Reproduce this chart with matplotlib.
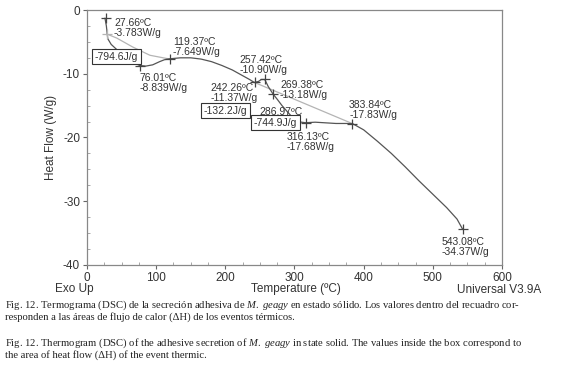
import matplotlib
matplotlib.use("Agg")
import matplotlib.pyplot as plt

plt.rcParams['font.family'] = ['Liberation Sans', 'DejaVu Sans']
plt.rcParams['axes.unicode_minus'] = False
plt.rcParams['mathtext.fontset'] = 'custom'
plt.rcParams['mathtext.rm'] = 'Liberation Serif'
plt.rcParams['mathtext.it'] = 'Liberation Serif:italic'

# DSC curve
temp = [26, 28, 30, 35, 45, 55, 65, 76, 85, 95, 105, 112, 120, 135, 150, 165,
        180, 195, 210, 225, 235, 242, 248, 252, 257, 262, 269, 275, 282, 290,
        300, 310, 316, 330, 345, 360, 375, 384, 400, 420, 440, 460, 480, 500,
        520, 535, 543]
heat = [-1.3, -2.5, -4.5, -5.4, -6.4, -7.3, -8.1, -8.7, -8.8, -8.6, -8.1, -7.8,
        -7.65, -7.5, -7.5, -7.7, -8.1, -8.7, -9.4, -10.3, -10.9, -11.37, -11.2,
        -10.9, -10.9, -12.0, -13.18, -14.0, -15.0, -16.0, -17.2, -17.6, -17.68,
        -17.6, -17.7, -17.8, -17.8, -17.83, -18.8, -20.6, -22.5, -24.6, -26.8,
        -28.9, -31.0, -32.8, -34.37]

# integration baselines
base1_t = [29, 43, 66, 91, 115, 119.4]
base1_h = [-3.78, -4.4, -5.8, -7.1, -7.6, -7.65]
base2_t = [242.26, 383.84]
base2_h = [-11.37, -17.83]

# marked points
mark_t = [27, 76.01, 119.37, 242.26, 257.42, 269.38, 316.13, 383.84, 543.08]
mark_h = [-1.3, -8.839, -7.649, -11.37, -10.90, -13.18, -17.68, -17.83, -34.37]

labels = ["27.66ºC\n-3.783W/g", "119.37ºC\n-7.649W/g", "76.01ºC\n-8.839W/g",
          "257.42ºC\n-10.90W/g", "242.26ºC\n-11.37W/g", "269.38ºC\n-13.18W/g",
          "286.97ºC", "316.13ºC\n-17.68W/g", "383.84ºC\n-17.83W/g",
          "543.08ºC\n-34.37W/g"]
label_t = [39, 124, 76, 221, 179, 279, 249, 289, 379, 513]
label_h = [-1.2, -4.2, -9.9, -7.1, -11.4, -11.0, -15.2, -19.1, -14.1, -35.6]

areas = ["-794.6J/g", "-132.2J/g", "-744.9J/g"]
area_t = [11, 169, 241]
area_h = [-7.3, -15.8, -17.7]

fig = plt.figure(figsize=(5.8, 3.91), dpi=100)
ax = fig.add_axes([0.150, 0.3223, 0.7155, 0.6521])

ax.plot(base1_t, base1_h, color='#b4b4b4', lw=0.9)
ax.plot(base2_t, base2_h, color='#b4b4b4', lw=0.9)
ax.plot(temp, heat, color='#555555', lw=0.9)
ax.plot([29], [-3.783], '+', color='#b4b4b4', ms=7, mew=0.9)
ax.plot(mark_t, mark_h, '+', color='#444444', ms=7, mew=0.9, ls='none')

for s, x, y in zip(labels, label_t, label_h):
    ax.text(x, y, s, fontsize=7.5, color='#333333', va='top', ha='left',
            linespacing=1.0)
for s, x, y in zip(areas, area_t, area_h):
    ax.text(x, y, s, fontsize=7.5, color='#333333', va='center', ha='left',
            bbox=dict(boxstyle='square,pad=0.25', fc='white', ec='#333333', lw=0.8))

ax.set_xlim(0, 600)
ax.set_ylim(-40, 0)
ax.set_xticks([0, 100, 200, 300, 400, 500, 600])
ax.set_yticks([0, -10, -20, -30, -40])
ax.set_xticks(range(0, 601, 25), minor=True)
ax.set_yticks([-40 + 2.5 * i for i in range(17)], minor=True)
ax.tick_params(which='major', direction='out', length=3, labelsize=8.5,
               color='#666666', labelcolor='#333333', pad=2)
ax.tick_params(which='minor', direction='in', length=2, color='#999999')
for sp in ax.spines.values():
    sp.set_color('#888888')
    sp.set_linewidth(0.9)

ax.set_ylabel("Heat Flow (W/g)", fontsize=8.5, color='#333333', labelpad=4)
fig.text(0.095, 0.262, "Exo Up", fontsize=8.5, color='#333333', ha='left', va='center')
fig.text(0.510, 0.262, "Temperature (ºC)", fontsize=8.5, color='#333333', ha='center', va='center')
fig.text(0.788, 0.258, "Universal V3.9A", fontsize=8.5, color='#333333', ha='left', va='center')

cap = dict(fontsize=7.7, family='Liberation Serif', color='#222222', ha='left', va='center')
fig.text(0.009, 0.220, r"Fig. 12. Termograma (DSC) de la secreción adhesiva de $\mathit{M.\ geagy}$ en estado sólido. Los valores dentro del recuadro cor-", **cap)
fig.text(0.009, 0.189, "responden a las áreas de flujo de calor (ΔH) de los eventos térmicos.", **cap)
fig.text(0.009, 0.123, r"Fig. 12. Thermogram (DSC) of the adhesive secretion of $\mathit{M.\ geagy}$ in state solid. The values inside the box correspond to", **cap)
fig.text(0.009, 0.092, "the area of heat flow (ΔH) of the event thermic.", **cap)

fig.savefig("out.png", dpi=100)
